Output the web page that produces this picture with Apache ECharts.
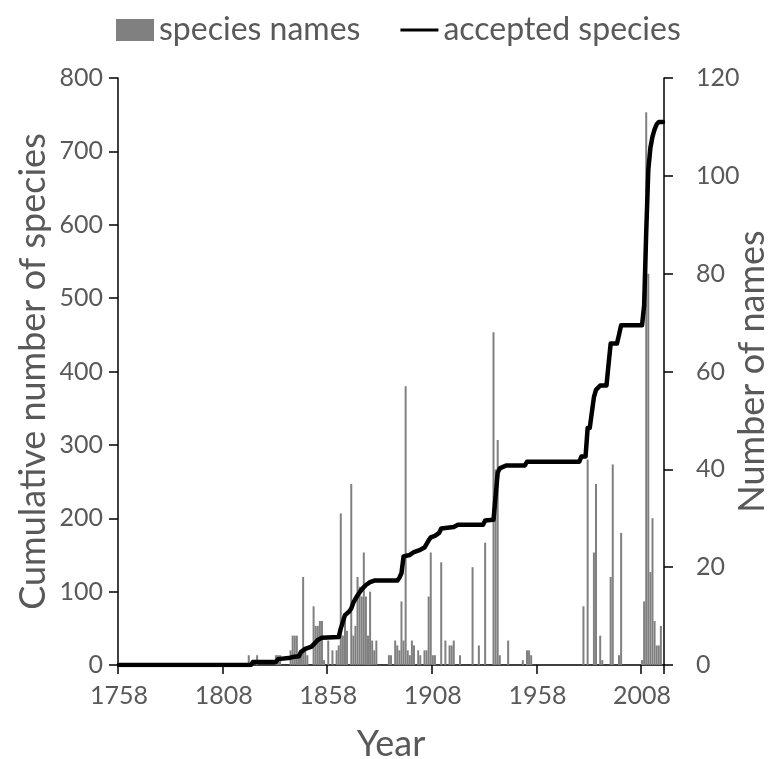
<!DOCTYPE html>
<html>
<head>
<meta charset="utf-8">
<script src="https://cdn.jsdelivr.net/npm/echarts@6/dist/echarts.min.js"></script>
<style>
  html, body { margin: 0; padding: 0; background: #fff; }
  #chart { width: 773px; height: 759px; }
</style>
</head>
<body>
<div id="chart"></div>
<script>
// x categories: one per year
const firstYear = 1758
const lastYear = 2018
const years = []
for (let y = firstYear; y <= lastYear; y++) years.push(String(y))

// species names described per year (right axis)
const nameYears = [1820, 1824, 1833, 1834, 1835, 1840, 1841, 1842, 1843, 1844, 1845, 1846, 1847, 1848,
  1851, 1852, 1853, 1854, 1855, 1856, 1858, 1860, 1862, 1863, 1864, 1865, 1866, 1867, 1869, 1870,
  1871, 1872, 1873, 1874, 1875, 1876, 1877, 1878, 1879, 1880, 1881, 1887, 1888, 1890, 1891, 1892,
  1893, 1894, 1895, 1896, 1897, 1898, 1899, 1901, 1902, 1904, 1905, 1906, 1907, 1908, 1909, 1912,
  1914, 1916, 1917, 1918, 1921, 1927, 1930, 1933, 1937, 1938, 1939, 1940, 1944, 1951, 1953, 1954,
  1955, 1980, 1982, 1985, 1986, 1988, 1989, 1993, 1994, 1997, 1998, 2008, 2009, 2010, 2011, 2012,
  2013, 2014, 2015, 2016, 2017]
const nameCounts = [2, 2, 2, 2, 2, 3, 6, 6, 6, 2, 2, 18, 3, 2,
  12, 8, 8, 9, 9, 1, 5, 3, 3, 4, 31, 6, 10, 7, 37, 6,
  8, 18, 16, 14, 23, 14, 6, 15, 5, 3, 5, 2, 2, 5, 4, 3,
  13, 5, 57, 3, 2, 5, 4, 3, 2, 3, 3, 14, 23, 2, 2, 21,
  5, 4, 4, 5, 2, 20, 4, 25, 68, 40, 46, 2, 5, 1, 3, 3,
  2, 12, 42, 23, 37, 6, 1, 18, 41, 2, 27, 1, 13, 113, 80, 19,
  30, 9, 4, 4, 8]

// cumulative accepted species (left axis)
const accYears = [1758, 1821, 1822, 1833, 1834, 1840, 1841, 1844, 1845, 1847, 1850, 1851, 1853, 1855,
  1863, 1864, 1866, 1868, 1869, 1870, 1872, 1874, 1876, 1878, 1880, 1891, 1892, 1893, 1894, 1897,
  1899, 1902, 1904, 1906, 1907, 1909, 1911, 1912, 1918, 1920, 1932, 1933, 1937, 1938, 1939, 1940,
  1943, 1952, 1953, 1978, 1979, 1981, 1982, 1983, 1985, 1986, 1988, 1991, 1992, 1993, 1996, 1997,
  1998, 2008, 2009, 2010, 2011, 2012, 2013, 2014, 2015, 2016, 2018]
const accTotals = [0, 0, 4, 4, 8, 10, 11, 12, 18, 22, 25, 28, 34, 37,
  38, 50, 68, 73, 77, 85, 95, 103, 109, 113, 115, 115, 119, 125, 148, 150,
  154, 157, 160, 170, 174, 176, 180, 186, 188, 191, 191, 197, 198, 230, 262, 268,
  272, 272, 277, 277, 284, 284, 323, 323, 365, 375, 381, 381, 410, 438, 438, 450,
  463, 463, 490, 590, 675, 705, 720, 730, 737, 740, 740]

const leftTicks = { min: 0, max: 800, interval: 100 }
const rightTicks = { min: 0, max: 120, interval: 20 }

const textColor = '#595959'
const fontFamily = 'Lato, "Open Sans", sans-serif'

const chart = echarts.init(document.getElementById('chart'))

const axisLine = { show: true, lineStyle: { color: '#000', width: 1.5 } }
const axisTick = { show: true, length: 9, lineStyle: { color: '#000', width: 1.5 } }
const titleStyle = { fontSize: 36, color: textColor, fontFamily }

const option = {
  animation: false,
  textStyle: { fontFamily },
  legend: {
    left: 111,
    top: 9,
    itemWidth: 38,
    itemHeight: 22,
    itemGap: 40,
    textStyle: { fontSize: 32, color: textColor, fontFamily },
    data: [
      { name: 'species names', icon: 'rect', itemStyle: { color: '#808080' } },
      { name: 'accepted species', icon: 'path://M0,0 L40,0 L40,3 L0,3 Z', itemStyle: { color: '#000' } }
    ]
  },
  grid: {
    left: 118,
    right: 109,
    top: 78,
    bottom: 94,
    containLabel: false,
    outerBoundsMode: 'none'
  },
  xAxis: {
    type: 'category',
    data: years,
    boundaryGap: true,
    name: 'Year',
    nameLocation: 'middle',
    nameGap: 61,
    nameMoveOverlap: false,
    nameTextStyle: titleStyle,
    axisLine,
    axisTick: { ...axisTick, interval: 49 },
    axisLabel: { interval: 49, fontSize: 25, color: textColor, margin: 18, fontFamily },
    splitLine: { show: false }
  },
  yAxis: [
    {
      type: 'value',
      ...leftTicks,
      position: 'left',
      name: 'Cumulative number of species',
      nameLocation: 'middle',
      nameRotate: 90,
      nameGap: 67,
      nameMoveOverlap: false,
      nameTextStyle: titleStyle,
      axisLine,
      axisTick,
      axisLabel: { fontSize: 25, color: textColor, margin: 15, fontFamily },
      splitLine: { show: false }
    },
    {
      type: 'value',
      ...rightTicks,
      position: 'right',
      name: 'Number of names',
      nameLocation: 'middle',
      nameRotate: 90,
      nameGap: 70,
      nameMoveOverlap: false,
      nameTextStyle: titleStyle,
      axisLine,
      axisTick,
      axisLabel: { fontSize: 25, color: textColor, margin: 32, fontFamily },
      splitLine: { show: false }
    }
  ],
  series: [
    {
      name: 'species names',
      type: 'bar',
      yAxisIndex: 1,
      barWidth: 2,
      itemStyle: { color: '#808080' },
      data: nameYears.map((y, i) => [String(y), nameCounts[i]])
    },
    {
      name: 'accepted species',
      type: 'line',
      yAxisIndex: 0,
      symbol: 'none',
      lineStyle: { color: '#000', width: 4.5, join: 'round', cap: 'round' },
      itemStyle: { color: '#000' },
      data: accYears.map((y, i) => [String(y), accTotals[i]])
    }
  ]
}

chart.setOption(option)
</script>
</body>
</html>
